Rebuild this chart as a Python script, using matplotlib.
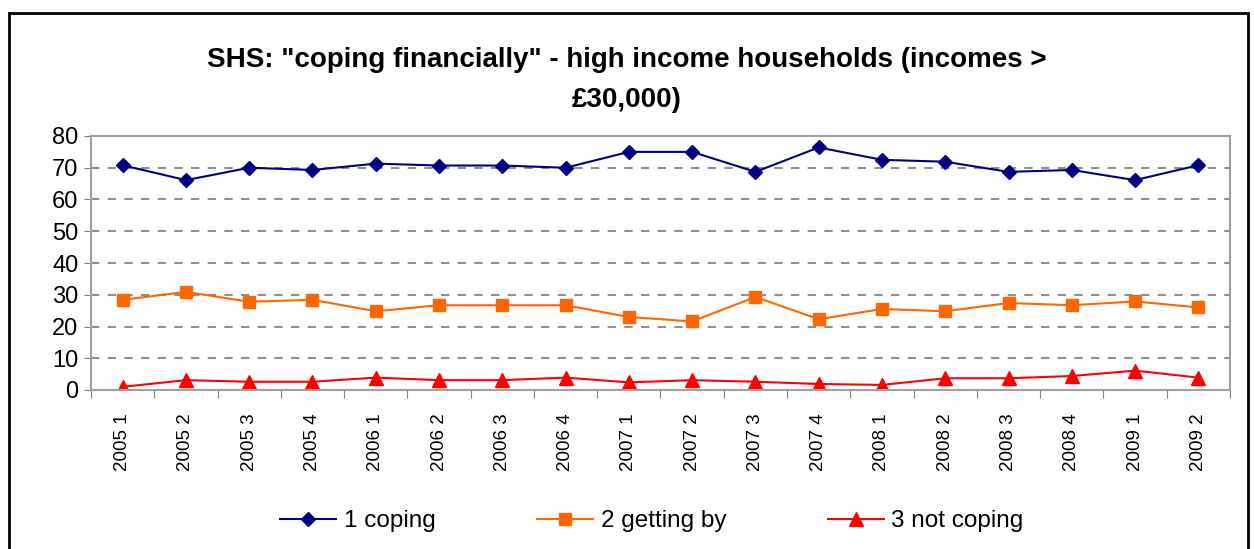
import matplotlib
matplotlib.use('Agg')
import matplotlib.pyplot as plt
from matplotlib.patches import Rectangle

# quarters shown on the x axis
quarters = ['2005 1', '2005 2', '2005 3', '2005 4',
            '2006 1', '2006 2', '2006 3', '2006 4',
            '2007 1', '2007 2', '2007 3', '2007 4',
            '2008 1', '2008 2', '2008 3', '2008 4',
            '2009 1', '2009 2']

coping = [70.8, 66.1, 70.0, 69.3, 71.3, 70.7, 70.7, 70.0, 75.0, 75.0,
          68.7, 76.4, 72.5, 71.9, 68.7, 69.3, 66.1, 70.8]
getting_by = [28.4, 30.9, 27.8, 28.4, 24.8, 26.7, 26.7, 26.7, 23.0, 21.6,
              29.3, 22.3, 25.5, 24.8, 27.4, 26.7, 27.9, 26.0]
not_coping = [1.0, 3.1, 2.6, 2.6, 3.9, 3.1, 3.1, 3.9, 2.4, 3.1,
              2.6, 1.9, 1.6, 3.7, 3.7, 4.4, 6.1, 3.9]

series_labels = ['1 coping', '2 getting by', '3 not coping']

plt.rcParams['font.family'] = ['Liberation Sans', 'DejaVu Sans']

W, H = 1254, 549
fig = plt.figure(figsize=(W / 100, H / 100), dpi=100)
ax = fig.add_axes([91 / W, 1 - 390 / H, (1230 - 91) / W, (390 - 136) / H])

x = range(len(quarters))
ax.plot(x, coping, color='#000080', lw=1.5, marker='D', ms=7.5, label=series_labels[0])
ax.plot(x, getting_by, color='#FF6600', lw=1.5, marker='s', ms=8.5, label=series_labels[1])
ax.plot(x, not_coping, color='#FF0000', lw=1.5, marker='^', ms=9.5, label=series_labels[2])

ax.set_xlim(-0.5, len(quarters) - 0.5)
ax.set_ylim(0, 80)
ax.set_yticks(range(0, 81, 10))
ax.tick_params(axis='y', labelsize=17, length=5, color='#808080', direction='out', pad=4)

# ticks at category boundaries, labels at category centres
ax.set_xticks([i - 0.5 for i in range(len(quarters) + 1)])
ax.set_xticklabels([])
ax.set_xticks(list(x), minor=True)
ax.set_xticklabels(quarters, minor=True, rotation=90, fontsize=13.5)
ax.tick_params(axis='x', which='major', length=6, color='#808080', direction='out')
ax.tick_params(axis='x', which='minor', length=0, pad=17)

for y in range(10, 80, 10):
    ax.axhline(y, color='#909090', lw=1.5, ls=(0, (4, 4)), zorder=0)

for s in ax.spines.values():
    s.set_color('#A0A0A0')
    s.set_linewidth(1.5)

fig.text(627 / W, 1 - 60 / H,
         'SHS: "coping financially" - high income households (incomes >',
         ha='center', va='center', fontsize=20, fontweight='bold')
fig.text(627 / W, 1 - 100 / H, '£30,000)',
         ha='center', va='center', fontsize=20, fontweight='bold')

fig.legend(loc='center', bbox_to_anchor=(652 / W, 1 - 521 / H), ncol=3,
           frameon=False, fontsize=17.5, handlelength=2.3, handletextpad=0.3,
           columnspacing=4.2)

# outer chart border
fig.patches.append(Rectangle((9 / W, -0.05), (1248 - 9) / W, 1.05 - 13 / H,
                             transform=fig.transFigure, fill=False,
                             edgecolor='black', lw=2))

fig.savefig('out.png', dpi=100)
